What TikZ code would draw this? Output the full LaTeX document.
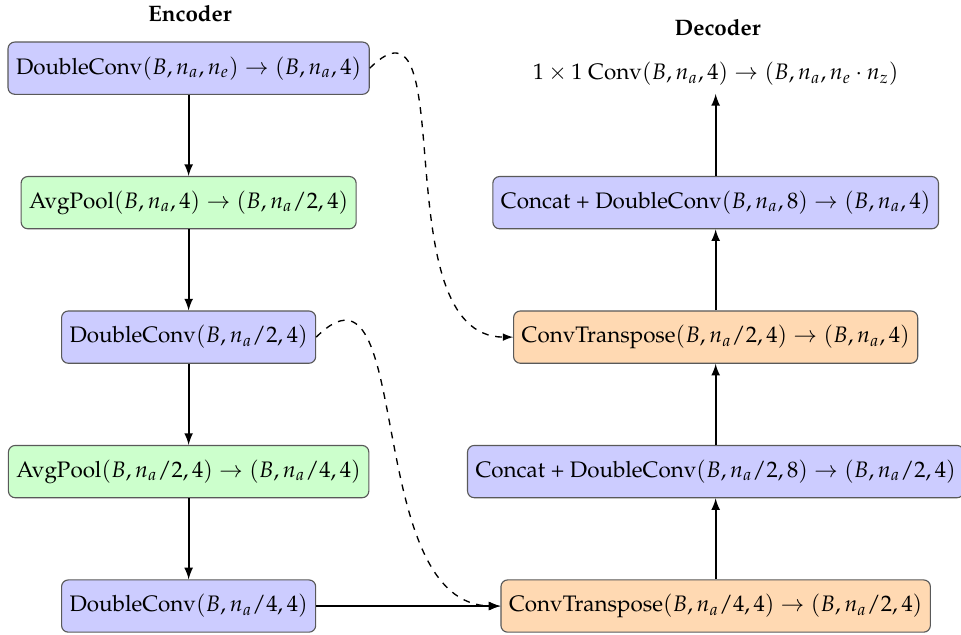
\documentclass[tikz,border=0pt]{standalone}
\usepackage[T1]{fontenc}
\usepackage{mathpazo}
\usetikzlibrary{arrows}

\tikzset{
	block/.style = {draw = black!65, line width = 0.5pt, rounded corners = 3pt, minimum height = 0.82cm, inner xsep = 3.6pt},
	enc/.style   = {block, fill = blue!20},
	pool/.style  = {block, fill = green!20},
	up/.style    = {block, fill = orange!30},
	skip/.style  = {dashed, -latex}
}

\begin{document}
\begin{tikzpicture}[>=latex, thick, draw=black]
	\useasboundingbox (0, 0) rectangle (15.08, -9.96);
	\node (ENC) at ( 2.98, -0.22)	{\textbf{Encoder}};
	\node (DEC) at (11.26, -0.44)	{\textbf{Decoder}};
	\node (E1) at ( 2.96, -1.07)	[enc]	{DoubleConv$(B, n_a, n_e) \rightarrow (B, n_a, 4)$};
	\node (E2) at ( 2.96, -3.18)	[pool]	{AvgPool$(B, n_a, 4) \rightarrow (B, n_a/2, 4)$};
	\node (E3) at ( 2.96, -5.29)	[enc]	{DoubleConv$(B, n_a/2, 4)$};
	\node (E4) at ( 2.96, -7.40)	[pool]	{AvgPool$(B, n_a/2, 4) \rightarrow (B, n_a/4, 4)$};
	\node (E5) at ( 2.96, -9.51)	[enc]	{DoubleConv$(B, n_a/4, 4)$};
	\node (D0) at (11.23, -9.51)	[up]	{ConvTranspose$(B, n_a/4, 4) \rightarrow (B, n_a/2, 4)$};
	\node (D1) at (11.23, -7.40)	[enc]	{Concat + DoubleConv$(B, n_a/2, 8) \rightarrow (B, n_a/2, 4)$};
	\node (D2) at (11.23, -5.29)	[up]	{ConvTranspose$(B, n_a/2, 4) \rightarrow (B, n_a, 4)$};
	\node (D3) at (11.23, -3.18)	[enc]	{Concat + DoubleConv$(B, n_a, 8) \rightarrow (B, n_a, 4)$};
	\node (OUT) at (11.23, -1.16)	{$1 \times 1$ Conv$(B, n_a, 4) \rightarrow (B, n_a, n_e \cdot n_z)$};
	\draw[->] (E1) -- (E2);
	\draw[->] (E2) -- (E3);
	\draw[->] (E3) -- (E4);
	\draw[->] (E4) -- (E5);
	\draw[->] (E5) -- (D0);
	\draw[->] (D0) -- (D1);
	\draw[->] (D1) -- (D2);
	\draw[->] (D2) -- (D3);
	\draw[->] (D3) -- (OUT);
	\draw[skip, semithick] (E1.east) to[out=45, in=180, looseness=1.1] (D2.west);
	\draw[skip, semithick] (E3.east) to[out=45, in=180, looseness=1.1] (D0.west);
\end{tikzpicture}
\end{document}
